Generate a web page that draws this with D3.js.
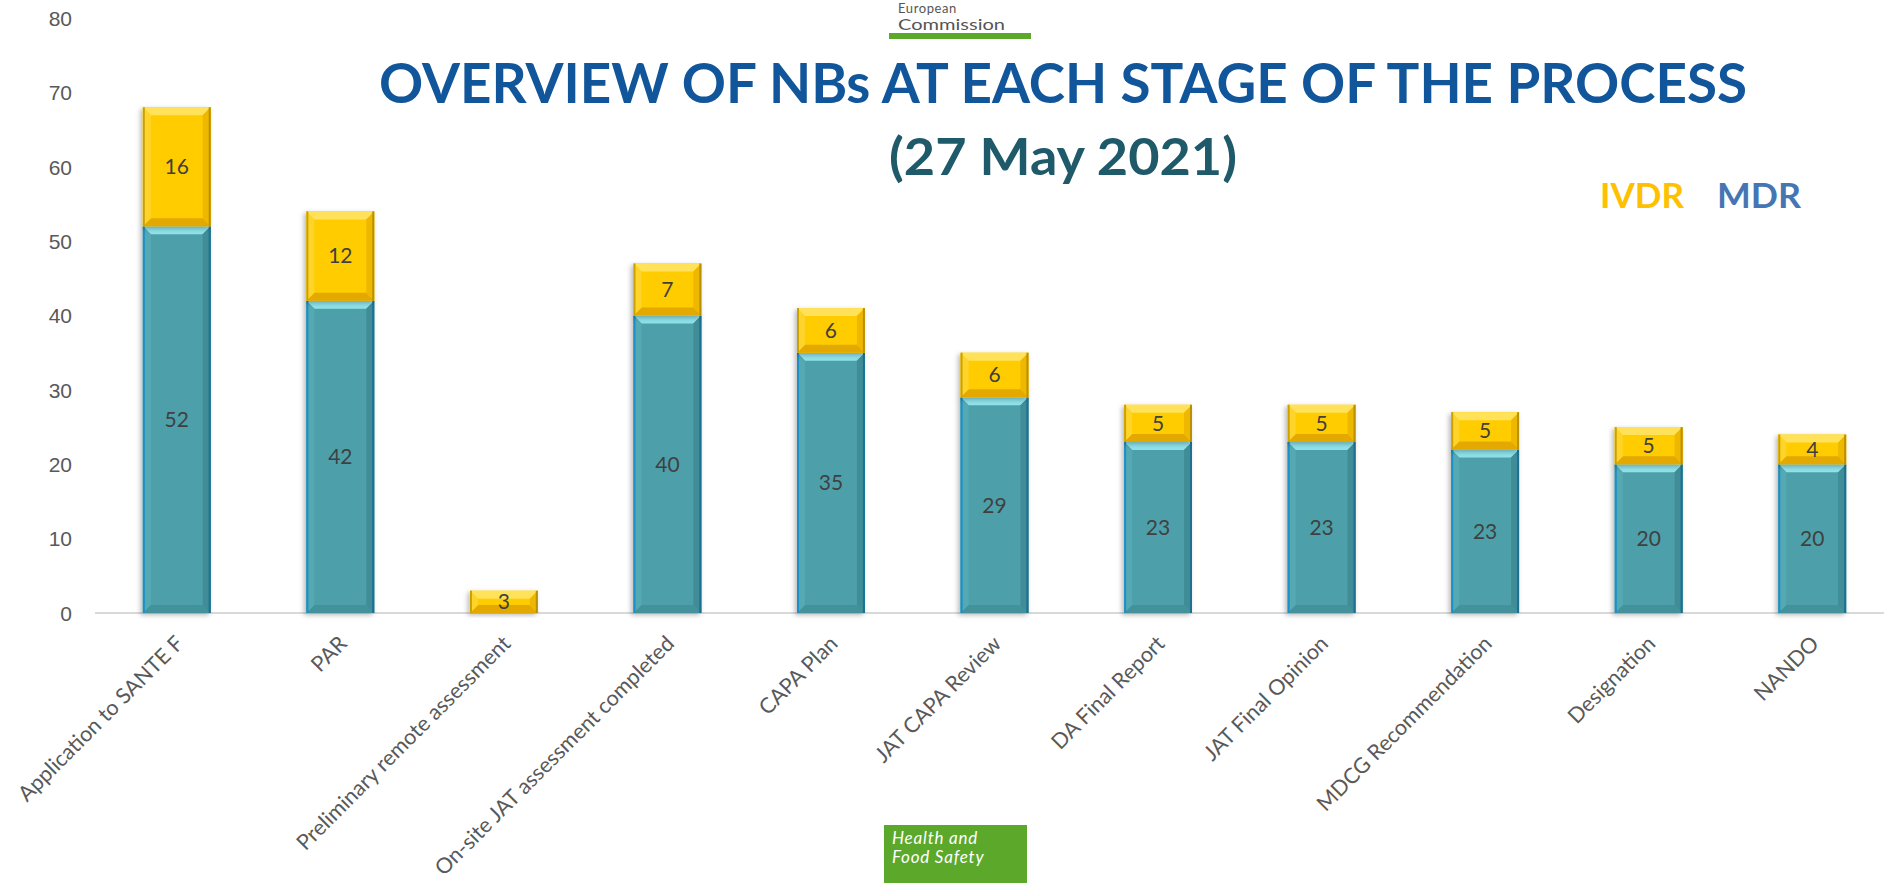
<!DOCTYPE html>
<html>
<head>
<meta charset="utf-8">
<script src="https://cdn.jsdelivr.net/npm/d3@7"></script>
<style>
  html, body { margin: 0; padding: 0; background: #fff; }
  svg { display: block; font-family: Lato, "Open Sans", sans-serif; }
  .axis-y text { fill: #595959; font-size: 21px; }
  .axis-x text { fill: #595959; font-size: 21.5px; }
</style>
</head>
<body>
<svg id="chart" width="1884" height="883"></svg>
<script>
// stages of the designation process
const categories = [
  "Application to SANTE F",
  "PAR",
  "Preliminary remote assessment",
  "On-site JAT assessment completed",
  "CAPA Plan",
  "JAT CAPA Review",
  "DA Final Report",
  "JAT Final Opinion",
  "MDCG Recommendation",
  "Designation",
  "NANDO"
];
// bar heights as drawn in the original
const mdr  = [52, 42, 0, 40, 35, 29, 23, 23, 22, 20, 20];
const ivdr = [16, 12, 3, 7, 6, 6, 5, 5, 5, 5, 4];
// data labels as printed (MDCG bar shows 23 on a 22 bar)
const mdrLabels = ["52", "42", "", "40", "35", "29", "23", "23", "23", "20", "20"];
const yTicks = [0, 10, 20, 30, 40, 50, 60, 70, 80];

const margin = {top: 18, left: 95, right: -10, bottom: 270};
const width = 1884, height = 883;

const svg = d3.select("#chart");

let xScale = d3.scaleBand()
  .domain(categories)
  .range([margin.left, width - margin.right])
  .paddingInner(0.585)
  .paddingOuter(0.2925);

let yScale = d3.scaleLinear()
  .domain([0, 80])
  .range([height - margin.bottom, margin.top]);

// drop shadow for the bars
let defs = svg.append("defs");
let shadow = defs.append("filter").attr("id", "shadow")
  .attr("x", "-20%").attr("y", "-20%").attr("width", "140%").attr("height", "140%");
shadow.append("feDropShadow")
  .attr("dx", -2).attr("dy", 2).attr("stdDeviation", 2.5)
  .attr("flood-color", "#000").attr("flood-opacity", 0.28);

// y axis
let yAxis = d3.axisLeft(yScale).tickValues(yTicks).tickSize(0).tickPadding(23);
svg.append("g")
  .attr("class", "axis-y")
  .attr("transform", "translate(" + margin.left + ",0)")
  .call(yAxis)
  .call(g => g.select(".domain").remove())
  .selectAll("text").attr("dy", "0.35em");

// baseline
svg.append("line")
  .attr("x1", xScale.range()[0]).attr("x2", width)
  .attr("y1", yScale(0)).attr("y2", yScale(0))
  .attr("stroke", "#d9d9d9").attr("stroke-width", 2);

const palette = {
  mdr:  {base: "#4ea0aa", top: "#8fe2ea", bottom: "#42919b", left: "#55a9b3", right: "#3f8d98",
         edgeL: "#1a8fc6", edgeR: "#1c6f94"},
  ivdr: {base: "#ffcc00", top: "#ffe25a", bottom: "#e3a900", left: "#ffd42a", right: "#eeb700",
         edgeL: "#c9a200", edgeR: "#b89000"}
};

function bevelBar(g, x, y0, y1, w, c) {
  let h = y0 - y1;
  if (h <= 0) return;
  let b = Math.min(8, h / 2);
  let seg = g.append("g").attr("filter", "url(#shadow)");
  seg.append("rect").attr("x", x).attr("y", y1).attr("width", w).attr("height", h).attr("fill", c.base);
  let polys = [
    [[x, y1], [x + w, y1], [x + w - b, y1 + b], [x + b, y1 + b], c.top],
    [[x, y0], [x + w, y0], [x + w - b, y0 - b], [x + b, y0 - b], c.bottom],
    [[x, y1], [x + b, y1 + b], [x + b, y0 - b], [x, y0], c.left],
    [[x + w, y1], [x + w - b, y1 + b], [x + w - b, y0 - b], [x + w, y0], c.right]
  ];
  polys.forEach(function(p) {
    seg.append("polygon")
      .attr("points", p.slice(0, 4).map(q => q.join(",")).join(" "))
      .attr("fill", p[4]);
  });
  seg.append("line").attr("x1", x + 1).attr("x2", x + 1).attr("y1", y1).attr("y2", y0)
    .attr("stroke", c.edgeL).attr("stroke-width", 2);
  seg.append("line").attr("x1", x + w - 1).attr("x2", x + w - 1).attr("y1", y1).attr("y2", y0)
    .attr("stroke", c.edgeR).attr("stroke-width", 2);
}

let bars = svg.append("g").attr("class", "bars");
categories.forEach(function(cat, i) {
  let x = xScale(cat), w = xScale.bandwidth();
  bevelBar(bars, x, yScale(0), yScale(mdr[i]), w, palette.mdr);
  bevelBar(bars, x, yScale(mdr[i]), yScale(mdr[i] + ivdr[i]), w, palette.ivdr);
});

// data labels
let labels = svg.append("g")
  .attr("font-size", 21).attr("fill", "#404040").attr("text-anchor", "middle");
categories.forEach(function(cat, i) {
  let cx = xScale(cat) + xScale.bandwidth() / 2;
  if (mdrLabels[i] !== "") {
    labels.append("text").attr("x", cx).attr("y", yScale(mdr[i] / 2)).attr("dy", "0.35em")
      .text(mdrLabels[i]);
  }
  labels.append("text").attr("x", cx).attr("y", yScale(mdr[i] + ivdr[i] / 2)).attr("dy", "0.35em")
    .text(ivdr[i]);
});

// rotated category labels
svg.append("g").attr("class", "axis-x")
  .selectAll("text")
  .data(categories)
  .enter()
  .append("text")
  .attr("text-anchor", "end")
  .attr("transform", function(d) {
    return "translate(" + (xScale(d) + xScale.bandwidth() / 2 + 8) + "," + 645 + ") rotate(-45)";
  })
  .text(function(d) { return d; });

// title block
svg.append("text")
  .attr("x", 379).attr("y", 103)
  .attr("textLength", 1368).attr("lengthAdjust", "spacingAndGlyphs")
  .attr("font-size", 56).attr("font-weight", "bold").attr("fill", "#11569a")
  .text("OVERVIEW OF NBs AT EACH STAGE OF THE PROCESS");
svg.append("text")
  .attr("x", 889).attr("y", 175)
  .attr("textLength", 348).attr("lengthAdjust", "spacingAndGlyphs")
  .attr("font-size", 52).attr("font-weight", "bold").attr("fill", "#1f5a6a")
  .text("(27 May 2021)");

// legend
svg.append("text").attr("x", 1600).attr("y", 208)
  .attr("font-size", 35).attr("font-weight", "bold").attr("fill", "#ffc000")
  .attr("textLength", 84).attr("lengthAdjust", "spacingAndGlyphs").text("IVDR");
svg.append("text").attr("x", 1717).attr("y", 208)
  .attr("font-size", 35).attr("font-weight", "bold").attr("fill", "#4576b3")
  .attr("textLength", 84).attr("lengthAdjust", "spacingAndGlyphs").text("MDR");

// European Commission header
svg.append("text").attr("x", 898).attr("y", 13)
  .attr("font-size", 13).attr("letter-spacing", 0.6).attr("fill", "#555").text("European");
svg.append("text").attr("x", 898).attr("y", 30)
  .attr("font-size", 15).attr("fill", "#555")
  .attr("textLength", 107).attr("lengthAdjust", "spacingAndGlyphs").text("Commission");
svg.append("rect").attr("x", 889).attr("y", 33).attr("width", 142).attr("height", 6).attr("fill", "#5ba82b");

// Health and Food Safety footer
svg.append("rect").attr("x", 884).attr("y", 825).attr("width", 143).attr("height", 58).attr("fill", "#5ba82b");
svg.append("text").attr("x", 892).attr("y", 844)
  .attr("font-size", 17).attr("font-style", "italic").attr("letter-spacing", 0.8).attr("fill", "#fff")
  .text("Health and");
svg.append("text").attr("x", 892).attr("y", 863)
  .attr("font-size", 17).attr("font-style", "italic").attr("letter-spacing", 0.8).attr("fill", "#fff")
  .text("Food Safety");
</script>
</body>
</html>
